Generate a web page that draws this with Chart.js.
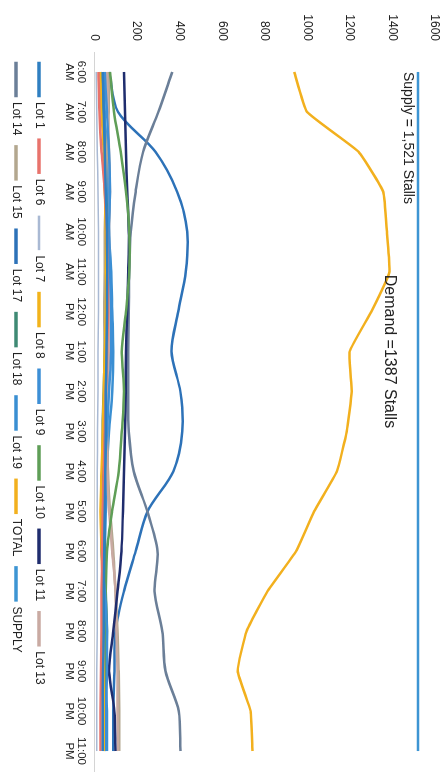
<!DOCTYPE html>
<html>
<head>
<meta charset="utf-8">
<script src="https://cdn.jsdelivr.net/npm/chart.js@4.4.1/dist/chart.umd.min.js"></script>
<style>
  html, body { margin: 0; padding: 0; background: #fff; overflow: hidden; }
  body { width: 442px; height: 772px; position: relative; }
  /* the scanned page is turned a quarter turn, so the chart is drawn landscape and rotated */
  #wrap {
    position: absolute; left: 0; top: 0;
    width: 772px; height: 442px;
    transform-origin: 0 0;
    transform: translate(442px, 0) rotate(90deg);
  }
</style>
</head>
<body>
<div id="wrap"><canvas id="parkingChart" width="772" height="442"></canvas></div>
<script>
const timeLabels = ['6:00 AM', '7:00 AM', '8:00 AM', '9:00 AM', '10:00 AM', '11:00 AM', '12:00 PM', '1:00 PM', '2:00 PM',
    '3:00 PM', '4:00 PM', '5:00 PM', '6:00 PM', '7:00 PM', '8:00 PM', '9:00 PM', '10:00 PM', '11:00 PM'];
const yTicks = [0, 200, 400, 600, 800, 1000, 1200, 1400, 1600];

const lot1  = [40, 45, 50, 55, 60, 62, 60, 58, 55, 55, 52, 50, 48, 45, 45, 42, 40, 40];
const lot6  = [20, 25, 35, 50, 60, 62, 65, 60, 55, 50, 45, 40, 38, 35, 35, 32, 30, 30];
const lot7  = [10, 12, 15, 18, 20, 20, 20, 18, 18, 16, 15, 15, 15, 14, 14, 12, 12, 12];
const lot8  = [30, 35, 45, 50, 55, 55, 55, 50, 45, 40, 35, 30, 35, 40, 45, 45, 45, 45];
const lot9  = [50, 60, 70, 75, 70, 75, 80, 80, 70, 60, 50, 40, 35, 50, 60, 60, 55, 50];
const lot10 = [75, 93, 125, 150, 165, 165, 150, 130, 140, 130, 116, 84, 60, 55, 52, 50, 50, 50];
const lot11 = [140, 145, 150, 155, 163, 160, 155, 150, 148, 145, 140, 135, 128, 110, 90, 70, 95, 100];
const lot13 = [60, 65, 70, 75, 70, 72, 70, 70, 65, 60, 62, 70, 85, 100, 105, 110, 110, 112];
const lot14 = [367, 302, 230, 195, 172, 165, 163, 160, 160, 163, 186, 250, 298, 284, 320, 335, 397, 405];
const lot15 = [70, 68, 60, 55, 50, 50, 48, 50, 55, 60, 65, 75, 90, 100, 110, 115, 118, 118];
const lot17 = [70, 112, 288, 390, 437, 430, 395, 363, 405, 414, 372, 251, 195, 140, 100, 95, 90, 90];
const lot18 = [30, 40, 50, 55, 60, 58, 55, 50, 45, 40, 40, 45, 50, 55, 60, 55, 50, 50];
const lot19 = [45, 50, 60, 65, 70, 80, 85, 90, 85, 70, 60, 55, 50, 45, 40, 50, 60, 60];
const totalDemand = [940, 1000, 1242, 1358, 1375, 1387, 1302, 1200, 1210, 1186, 1140, 1033, 948, 814, 716, 674, 735, 744];
const supplyStalls = [1521, 1521, 1521, 1521, 1521, 1521, 1521, 1521, 1521, 1521, 1521, 1521, 1521, 1521, 1521, 1521, 1521, 1521];

const seriesNames = ['Lot 1', 'Lot 6', 'Lot 7', 'Lot 8', 'Lot 9', 'Lot 10', 'Lot 11', 'Lot 13',
    'Lot 14', 'Lot 15', 'Lot 17', 'Lot 18', 'Lot 19', 'TOTAL', 'SUPPLY'];
const seriesData = [lot1, lot6, lot7, lot8, lot9, lot10, lot11, lot13,
    lot14, lot15, lot17, lot18, lot19, totalDemand, supplyStalls];
const colors = ['#2f7fc1', '#e8736c', '#a9b9d3', '#f2b31b', '#3d8fd6', '#5f9e57', '#1f2d6e', '#c9aaa2',
    '#6b7f98', '#b3a78f', '#2d72b8', '#3f8a74', '#3a8fd2', '#f2b01e', '#3d95d3'];

const FONT = '"Liberation Sans", Arial, sans-serif';
Chart.defaults.font.family = FONT;
Chart.defaults.font.size = 12;
Chart.defaults.color = '#222';

// text notes next to the supply line and the demand peak
const stallNotes = {
    id: 'stallNotes',
    afterDatasetsDraw(chart) {
        const { ctx, scales: { x, y } } = chart;
        ctx.save();
        ctx.fillStyle = '#222';
        ctx.textBaseline = 'middle';
        ctx.textAlign = 'left';
        ctx.font = '14px ' + FONT;
        ctx.fillText('Supply = 1,521 Stalls', x.getPixelForValue(0), y.getPixelForValue(supplyStalls[0]) + 10);
        const peak = totalDemand.indexOf(Math.max(...totalDemand));
        ctx.font = '16px ' + FONT;
        ctx.fillText('Demand =1387 Stalls', x.getPixelForValue(peak) + 3, y.getPixelForValue(totalDemand[peak]));
        ctx.restore();
    }
};

function lineTension(name) {
    if (name === 'SUPPLY') return 0;
    if (name === 'TOTAL') return 0.12;
    return 0.3;
}

const ctx = document.getElementById('parkingChart').getContext('2d');
const chart = new Chart(ctx, {
    type: 'line',
    data: {
        labels: timeLabels,
        datasets: seriesNames.map((name, i) => ({
            label: name,
            data: seriesData[i],
            borderColor: colors[i],
            backgroundColor: colors[i],
            borderWidth: name === 'Lot 7' ? 1.5 : 2.5,
            pointRadius: 0,
            tension: lineTension(name),
            fill: false
        }))
    },
    options: {
        responsive: false,
        animation: false,
        devicePixelRatio: 1,
        layout: { padding: 0 },
        scales: {
            x: {
                offset: true,
                grid: { display: false, drawTicks: false },
                border: { color: '#d4d4d4' },
                ticks: {
                    autoSkip: false,
                    maxRotation: 0,
                    padding: 7,
                    font: { size: 11.5, lineHeight: 1.05 },
                    callback: (v, i) => timeLabels[i].split(' ')
                }
            },
            y: {
                min: 0,
                max: 1600,
                // invisible tick marks keep the labels clear of the plot
                grid: { display: true, drawOnChartArea: false, drawTicks: true, tickLength: 11, tickColor: 'transparent' },
                border: { display: false },
                afterFit: s => { s.width = 52; },
                afterBuildTicks: s => { s.ticks = yTicks.map(v => ({ value: v })); },
                ticks: { padding: 0, font: { size: 12 }, callback: v => String(v) }
            }
        },
        plugins: {
            legend: {
                position: 'bottom',
                align: 'start',
                fullSize: false,
                labels: { boxWidth: 33, boxHeight: 1, padding: 11, font: { size: 12 } }
            },
            tooltip: { enabled: false }
        }
    },
    plugins: [stallNotes]
});
</script>
</body>
</html>
